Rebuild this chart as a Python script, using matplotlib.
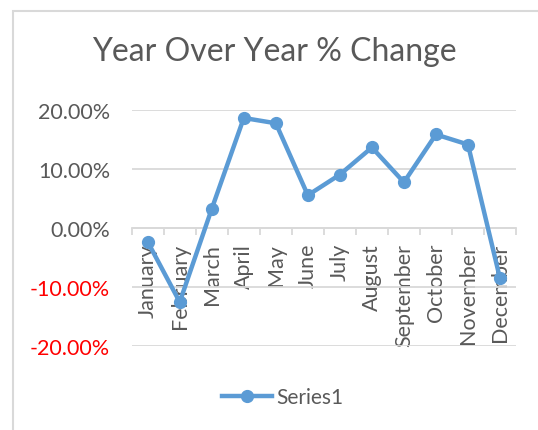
import matplotlib
matplotlib.use("Agg")
import matplotlib.pyplot as plt
from matplotlib.patches import Rectangle
from matplotlib.lines import Line2D
import numpy as np

months = ["January", "February", "March", "April", "May", "June", "July",
          "August", "September", "October", "November", "December"]
values = [-2.4, -12.6, 3.2, 18.6, 17.7, 5.5, 9.0, 13.6, 7.7, 15.8, 14.1, -8.6]
yticks = [-20, -10, 0, 10, 20]
title = "Year Over Year % Change"
series_name = "Series1"

plt.rcParams['font.family'] = ['Lato', 'DejaVu Sans']

W, H = 538, 431
fig = plt.figure(figsize=(W / 100, H / 100), dpi=100)

def fx(px):
    return px / W

def fy(py):
    return 1 - py / H

# chart frame
fig.patches.append(Rectangle((fx(13), fy(460)), fx(600) - fx(13), fy(12) - fy(460),
                             transform=fig.transFigure, fill=False,
                             edgecolor="#d9d9d9", linewidth=1.5))

left, right = 131.7, 516
top, bottom = 110.7, 346.7
ax = fig.add_axes([fx(left), fy(bottom), fx(right) - fx(left), fy(top) - fy(bottom)])

blue = "#5b9bd5"
grey = "#595959"
x = np.arange(len(months))
ax.plot(x, values, color=blue, linewidth=3.2, marker="o", markersize=8.5,
        markerfacecolor=blue, markeredgecolor=blue, zorder=3, clip_on=False)

ax.set_xlim(-0.5, len(months) - 0.5)
ax.set_ylim(-20, 20)
ax.set_yticks(yticks)
ax.set_yticklabels([f"{v:.2f}%" for v in yticks], fontsize=15.5)
for lab, v in zip(ax.get_yticklabels(), yticks):
    lab.set_color("red" if v < 0 else grey)
ax.tick_params(axis="y", length=0, pad=15.5)
ax.grid(axis="y", color="#d9d9d9", linewidth=1.3)
ax.set_axisbelow(True)

for s in ["left", "right", "top"]:
    ax.spines[s].set_visible(False)
ax.spines["bottom"].set_position(("data", 0))
ax.spines["bottom"].set_color("#d9d9d9")
ax.spines["bottom"].set_linewidth(1.3)
ax.spines["bottom"].set_zorder(2)

ax.set_xticks(x)
ax.set_xticklabels(months, rotation=90, fontsize=15.5, color=grey)
ax.tick_params(axis="x", which="major", length=0, pad=11)
ax.set_xticks(np.arange(len(months) + 1) - 0.5, minor=True)
ax.tick_params(axis="x", which="minor", length=5, width=1.3, color="#d9d9d9", direction="out")

fig.text(fx(274), fy(52), title, fontsize=23, color=grey, ha="center", va="center")

# legend
leg_handle = Line2D([], [], color=blue, linewidth=3.2, marker="o", markersize=8.5)
fig.legend([leg_handle], [series_name], loc="center", bbox_to_anchor=(fx(283), fy(398)),
           frameon=False, fontsize=15, labelcolor=grey, handlelength=2.4,
           handletextpad=0.2)

fig.savefig("out.png", dpi=100)
